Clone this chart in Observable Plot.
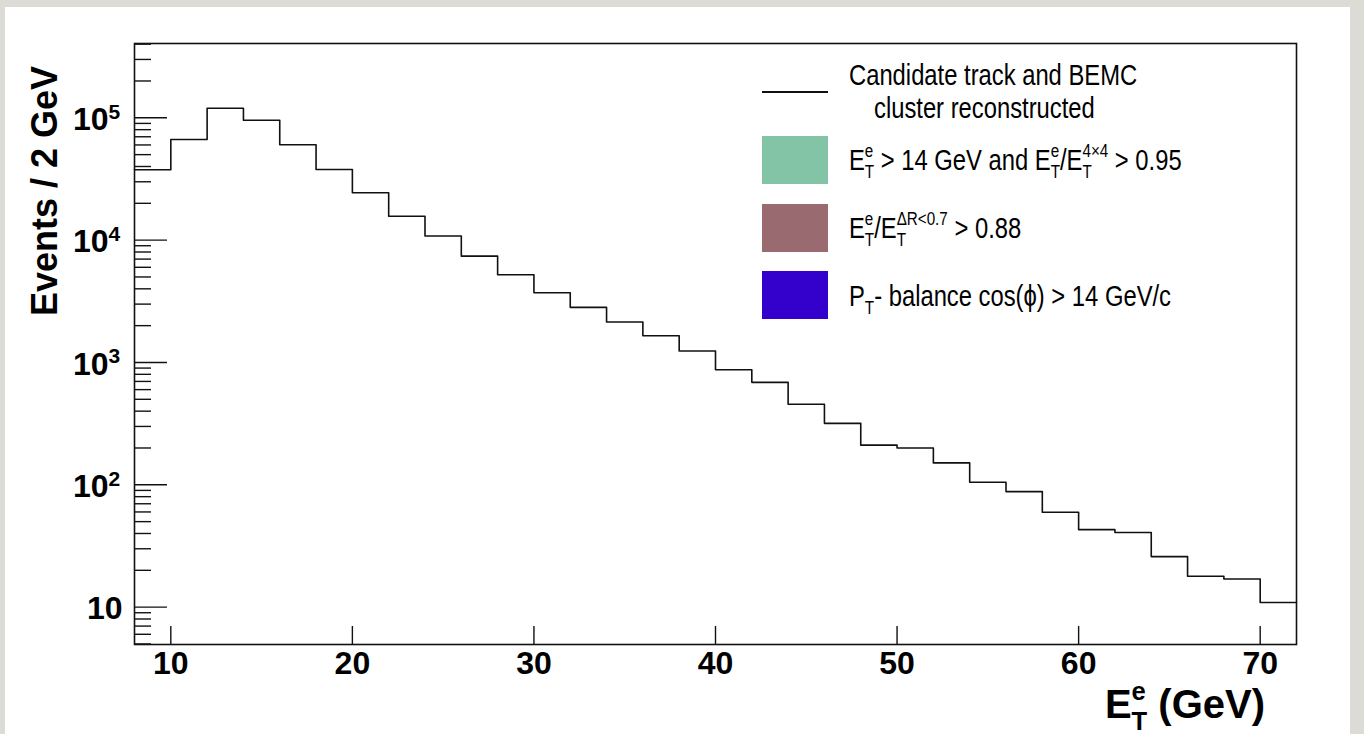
<!DOCTYPE html>
<html>
<head>
<meta charset="utf-8">
<script src="https://cdn.jsdelivr.net/npm/d3@7"></script>
<script src="https://cdn.jsdelivr.net/npm/@observablehq/plot@0.6"></script>
<style>
  html, body { margin: 0; padding: 0; }
  body { width: 1364px; height: 734px; overflow: hidden; background: #dcdbd5;
         font-family: "Liberation Sans", Arial, Helvetica, sans-serif; }
  #wrap { position: relative; width: 1364px; height: 734px; }
  #panel { position: absolute; left: 5px; top: 7px; width: 1345px; height: 727px; background: #fff; }
  #panel svg { display: block; }
  .abs { position: absolute; white-space: nowrap; color: #000; }
  .leg { font-size: 29px; line-height: 29px; transform: scaleX(0.82); transform-origin: left center; }
  .ss { display: inline-flex; flex-direction: column; font-size: 0.64em; line-height: 1.18;
        vertical-align: 0.7em; text-align: left; }
  .ss span { display: block; }
  .sb { font-size: 0.64em; vertical-align: -0.45em; }
  .swatch { position: absolute; }
  .title { font-weight: bold; }
</style>
</head>
<body>
<div id="wrap">
  <div id="panel"></div>
</div>
<script>
// ---- data ----
const binLow = [8, 10, 12, 14, 16, 18, 20, 22, 24, 26, 28, 30, 32, 34, 36, 38,
                40, 42, 44, 46, 48, 50, 52, 54, 56, 58, 60, 62, 64, 66, 68, 70];
const binWidth = 2;
const counts = [37600, 66500, 119800, 95600, 60200, 37800, 24400, 15700, 10800, 7400,
                5220, 3720, 2820, 2140, 1655, 1240, 873, 688, 455, 318,
                211, 200, 151, 105, 88, 59.6, 43, 40.7, 25.9, 17.9, 17.0, 10.9];
const xTicks = [10, 20, 30, 40, 50, 60, 70];
const yMajor = [10, 100, 1000, 10000, 100000];
const yExp = ["", "2", "3", "4", "5"];
const yMinorMult = [2, 3, 4, 5, 6, 7, 8, 9];
const yMinorDecades = [1, 10, 100, 1000, 10000, 100000];
const legendLabels = [
  "Candidate track and BEMC|cluster reconstructed",
  "E_T^e > 14 GeV and E_T^e/E_T^{4×4} > 0.95",
  "E_T^e/E_T^{ΔR<0.7} > 0.88",
  "P_T- balance cos(ϕ) > 14 GeV/c"
];
const legendColors = ["line", "#84c4a6", "#996b70", "#3300cc"];

// ---- build ----
const yDomain = [4.95, 4.05e5];
const minor = yMinorDecades.flatMap(d => yMinorMult.map(m => m * d))
  .filter(v => v >= yDomain[0] && v <= yDomain[1]);
const steps = binLow.flatMap((lo, i) => [{x: lo, y: counts[i]}, {x: lo + binWidth, y: counts[i]}]);
const yLab = yMajor.map((v, i) => ({v, e: yExp[i]}));
const yLabPlain = yLab.filter(d => !d.e);
const yLabExp = yLab.filter(d => d.e);

const W = 1345, H = 727, mL = 129, mR = 54, mT = 36, mB = 90;
const plotW = W - mL - mR, plotH = H - mT - mB;
const font = "Liberation Sans, Arial, Helvetica, sans-serif";

const chart = Plot.plot({
  width: W, height: H,
  marginLeft: mL, marginRight: mR, marginTop: mT, marginBottom: mB,
  style: {fontFamily: font, background: "transparent", overflow: "visible"},
  x: {domain: [8, 72], axis: null},
  y: {type: "log", domain: yDomain, axis: null},
  marks: [
    Plot.line(steps, {x: "x", y: "y", stroke: "#111", strokeWidth: 1.6}),
    Plot.tickY(yMajor, {y: d => d, stroke: "#111", strokeWidth: 1.4, insetRight: plotW - 33}),
    Plot.tickY(minor, {y: d => d, stroke: "#111", strokeWidth: 1.4, insetRight: plotW - 17}),
    Plot.tickX(xTicks, {x: d => d, stroke: "#111", strokeWidth: 1.4, insetTop: plotH - 18}),
    Plot.text(xTicks, {x: d => d, frameAnchor: "bottom", dy: 19, text: d => String(d),
      fontSize: 32, fontWeight: "bold", fill: "#000", lineAnchor: "middle"}),
    Plot.text(yLabPlain, {y: "v", frameAnchor: "left", dx: -12, dy: 2, text: () => "10",
      textAnchor: "end", fontSize: 32, fontWeight: "bold", fill: "#000", lineAnchor: "middle"}),
    Plot.text(yLabExp, {y: "v", frameAnchor: "left", dx: -26, dy: 2, text: () => "10",
      textAnchor: "end", fontSize: 32, fontWeight: "bold", fill: "#000", lineAnchor: "middle"}),
    Plot.text(yLabExp, {y: "v", frameAnchor: "left", dx: -26, dy: -6, text: d => d.e,
      textAnchor: "start", fontSize: 21, fontWeight: "bold", fill: "#000", lineAnchor: "middle"}),
    Plot.frame({stroke: "#111", strokeWidth: 1.6})
  ]
});
document.getElementById("panel").appendChild(chart);

// ---- rich text helper: X_a^b ----
function rich(s) {
  const esc = t => t.replace(/&/g, "&amp;").replace(/</g, "&lt;").replace(/>/g, "&gt;");
  return s.replace(/([A-Za-z])_([A-Za-z])\^(\{[^}]*\}|[A-Za-z0-9])|([A-Za-z])_([A-Za-z])/g,
    (m, b, sub, sup, b2, sub2) => {
      if (b2) return esc(b2) + `<span class="sb">${esc(sub2)}</span>`;
      const su = sup.replace(/^\{|\}$/g, "");
      return esc(b) + `<span class="ss"><span>${esc(su)}</span><span>${esc(sub)}</span></span>`;
    })
    .replace(/ > /g, " &gt; ");
}

const wrap = document.getElementById("wrap");
const rowBaseline = [85, 164, 232, 306];
const boxTop = [null, 136, 204, 271];
legendLabels.forEach((lab, i) => {
  const c = legendColors[i];
  if (c === "line") {
    const l = document.createElement("div");
    l.className = "swatch";
    Object.assign(l.style, {left: "762px", top: "91px", width: "66px", height: "1.6px", background: "#111"});
    wrap.appendChild(l);
  } else {
    const b = document.createElement("div");
    b.className = "swatch";
    Object.assign(b.style, {left: "762px", top: boxTop[i] + "px", width: "66px", height: "48px", background: c});
    wrap.appendChild(b);
  }
  const lines = lab.split("|");
  lines.forEach((t, j) => {
    const d = document.createElement("div");
    d.className = "abs leg";
    d.style.left = (j === 0 ? 849 : 874) + "px";
    d.style.top = (rowBaseline[i] + j * 33 - 24.5) + "px";
    d.innerHTML = rich(t);
    wrap.appendChild(d);
  });
});

// axis titles
const yt = document.createElement("div");
yt.className = "abs title";
Object.assign(yt.style, {left: "45px", top: "191px", fontSize: "36px", lineHeight: "36px",
  transform: "translate(-50%,-50%) rotate(-90deg)"});
yt.textContent = "Events / 2 GeV";
wrap.appendChild(yt);

const xt = document.createElement("div");
xt.className = "abs title";
Object.assign(xt.style, {right: (1364 - 1265) + "px", top: (710 - 34) + "px", fontSize: "40px", lineHeight: "40px"});
xt.innerHTML = rich("E_T^e") + " (GeV)";
wrap.appendChild(xt);
</script>
</body>
</html>
